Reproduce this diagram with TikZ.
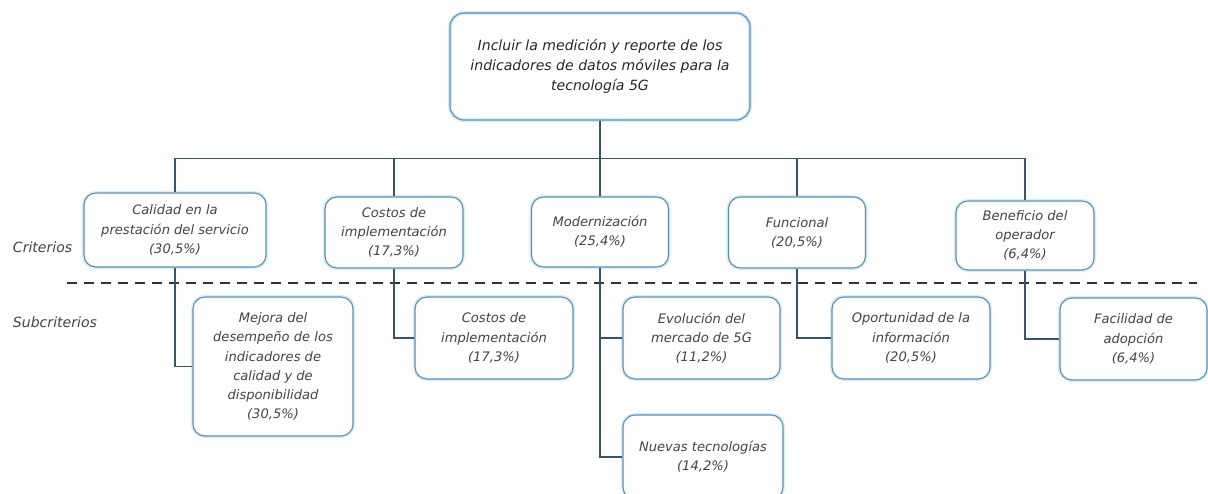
\documentclass[tikz,border=0pt]{standalone}
\usepackage{fontspec}
\setmainfont{DejaVu Sans}
\usetikzlibrary{positioning}
\definecolor{boxline}{RGB}{84,146,184}
\definecolor{halo}{RGB}{218,236,247}
\definecolor{linkline}{RGB}{52,86,106}
\definecolor{txtgray}{RGB}{68,68,68}
\tikzstyle{goal} = [rectangle, rounded corners=0.35cm, minimum width=7.5cm, minimum height=2.675cm, align=center, draw=boxline, line width=0.8pt, preaction={draw=halo,line width=3pt}, font=\fontsize{10}{14.2}\selectfont\itshape, text=black!85]
\tikzstyle{crit} = [rectangle, rounded corners=0.3cm, align=center, draw=boxline, line width=0.8pt, preaction={draw=halo,line width=3pt}, fill=white, font=\fontsize{9.3}{13.6}\selectfont\itshape, text=txtgray]
\tikzstyle{link} = [draw=linkline, line width=1.3pt]
\tikzstyle{sep} = [draw=black!80, line width=1.1pt, dash pattern=on 0.25cm off 0.175cm]
\tikzstyle{level} = [anchor=west, font=\fontsize{10}{12}\selectfont\itshape, text=txtgray]

\begin{document}
\begin{tikzpicture}[x=0.025cm,y=-0.025cm]
\useasboundingbox (0,0) rectangle (1208,493);
\node (goal) [goal] at (600,66.5) {Incluir la medición y reporte de los\\indicadores de datos móviles para la\\tecnología 5G};
% criterios
\node (c1) [crit, minimum width=4.55cm, minimum height=1.85cm] at (175,230) {Calidad en la\\prestación del servicio\\(30,5\%)};
\node (c2) [crit, minimum width=3.45cm, minimum height=1.775cm] at (394,232.5) {Costos de\\implementación\\(17,3\%)};
\node (c3) [crit, minimum width=3.425cm, minimum height=1.75cm] at (600,232) {Modernización\\(25,4\%)};
\node (c4) [crit, minimum width=3.425cm, minimum height=1.775cm] at (797,232.5) {Funcional\\(20,5\%)};
\node (c5) [crit, minimum width=3.45cm, minimum height=1.725cm] at (1025,235.5) {Beneficio del\\operador\\(6,4\%)};
% subcriterios
\node (s1) [crit, minimum width=4cm, minimum height=3.475cm] at (273,366.5) {Mejora del\\desempeño de los\\indicadores de\\calidad y de\\disponibilidad\\(30,5\%)};
\node (s2) [crit, minimum width=3.95cm, minimum height=2.05cm] at (494,338) {Costos de\\implementación\\(17,3\%)};
\node (s3) [crit, minimum width=3.925cm, minimum height=2.05cm] at (701.5,338) {Evolución del\\mercado de 5G\\(11,2\%)};
\node (s4) [crit, minimum width=4cm, minimum height=2.1cm] at (703,457) {Nuevas tecnologías\\(14,2\%)};
\node (s5) [crit, minimum width=3.95cm, minimum height=2.05cm] at (911,338) {Oportunidad de la\\información\\(20,5\%)};
\node (s6) [crit, minimum width=3.675cm, minimum height=2.05cm] at (1133.5,339) {Facilidad de\\adopción\\(6,4\%)};
% niveles
\node (lc) [level] at (8,247) {Criterios};
\node (ls) [level] at (8,322) {Subcriterios};
\draw [sep] (67,283) -- (1197,283);
% conexiones
\draw [link] (goal.south) -- ++(0,38) -| (c1.north);
\draw [link] (goal.south) -- ++(0,38) -| (c2.north);
\draw [link] (goal.south) -- (c3.north);
\draw [link] (goal.south) -- ++(0,38) -| (c4.north);
\draw [link] (goal.south) -- ++(0,38) -| (c5.north);
\draw [link] (c1.south) |- (s1.west);
\draw [link] (c2.south) |- (s2.west);
\draw [link] (c3.south) |- (s3.west);
\draw [link] (c3.south) |- (s4.west);
\draw [link] (c4.south) |- (s5.west);
\draw [link] (c5.south) |- (s6.west);
\end{tikzpicture}
\end{document}
